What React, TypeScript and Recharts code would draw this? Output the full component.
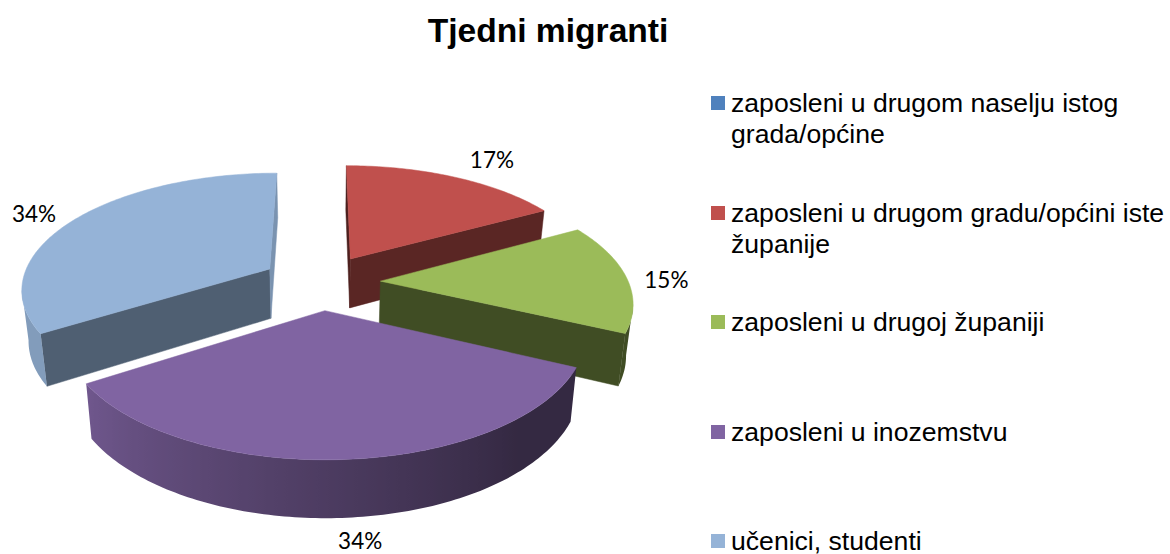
import React from "react";
import { PieChart, Pie, Legend } from "recharts";

const categories = [
  "zaposleni u drugom naselju istog grada/općine",
  "zaposleni u drugom gradu/općini iste županije",
  "zaposleni u drugoj županiji",
  "zaposleni u inozemstvu",
  "učenici, studenti",
];
const shares = [0, 17, 15, 34, 34];
const colors = ["#4f81bd", "#c0504d", "#9bbb59", "#8064a2", "#95b3d7"];

const rows = categories.map((name, i) => ({ name, value: shares[i], fill: colors[i] }));

// 3D look of the exploded pie
const TILT = 0.4637;
const PERSPECTIVE = 0.16;
const EXPLODE = 0.24;
const DEPTH = 50;
const labelReach = [1.5, 1.5, 1.35, 1.66, 1.47];
const labelNudge = [[0, 0], [14, 1], [13, 2], [4, -1], [0, 5]];
const sideShade = [0.47, 0.47, 0.41, 0.47, 0.53];
const rad = (d: number) => (d * Math.PI) / 180;

function shade(hex: string, f: number) {
  const n = parseInt(hex.slice(1), 16);
  const c = [(n >> 16) & 255, (n >> 8) & 255, n & 255].map((v) => Math.round(v * f));
  return `rgb(${c[0]},${c[1]},${c[2]})`;
}

function project(cx: number, cy: number, R: number, x: number, y: number, z = 0) {
  const w = 1 + PERSPECTIVE * y;
  const pull = 1 - 0.00045 * z;
  return [cx + ((R * x) / w) * pull, cy - (R * TILT * y) / w + z / Math.pow(w, 0.7)];
}
const pts = (list: number[][]) => list.map((p) => `${p[0].toFixed(2)},${p[1].toFixed(2)}`).join(" ");
const arcShade = (t: number) => Math.min(0.87, 0.41 + Math.max(0, t - 140) * (0.46 / 97));

function Slice3D(props: any) {
  const { cx, cy, outerRadius: R, startAngle, endAngle, fill, index } = props;
  const t0 = 90 - startAngle;
  const t1 = 90 - endAngle;
  if (!(t1 - t0 > 0.01)) return null;
  const mid = rad((t0 + t1) / 2);
  const ox = EXPLODE * Math.sin(mid);
  const oy = EXPLODE * Math.cos(mid);
  const rim = (t: number, z = 0) =>
    project(cx, cy, R, ox + Math.sin(rad(t)), oy + Math.cos(rad(t)), z);
  const apex = (z = 0) => project(cx, cy, R, ox, oy, z);

  const steps = Math.max(8, Math.ceil(t1 - t0));
  const ts = Array.from({ length: steps + 1 }, (_, i) => t0 + ((t1 - t0) * i) / steps);
  const top = [apex(), ...ts.map((t) => rim(t))];

  const side = shade(fill, sideShade[index]);
  const parts: React.ReactNode[] = [];
  const startP = rim(t0);
  const endP = rim(t1);
  const A = apex();
  if (startP[0] < A[0]) {
    const col = t0 < 45 ? shade(fill, 0.4) : side;
    parts.push(<polygon key="s" points={pts([A, startP, rim(t0, DEPTH), apex(DEPTH)])} fill={col} stroke={col} strokeWidth={0.5} />);
  }
  if (endP[0] > A[0]) {
    const col = t1 > 315 ? shade(fill, 0.82) : side;
    parts.push(<polygon key="e" points={pts([A, endP, rim(t1, DEPTH), apex(DEPTH)])} fill={col} stroke={col} strokeWidth={0.5} />);
  }

  // the outer wall: the part of the rim that faces the viewer, shaded along its length
  const front: number[] = [];
  for (let i = 0; i < steps; i++) {
    if (rim(ts[i + 1])[0] < rim(ts[i])[0]) {
      if (!front.length) front.push(ts[i]);
      front.push(ts[i + 1]);
    }
  }
  if (front.length > 1) {
    const xs = front.map((t) => rim(t)[0]);
    const xHi = Math.max(...xs);
    const xLo = Math.min(...xs);
    const id = `arc-wall-${index}`;
    const outline = [...front.map((t) => rim(t)), ...[...front].reverse().map((t) => rim(t, DEPTH))];
    parts.push(
      <linearGradient key="g" id={id} gradientUnits="userSpaceOnUse" x1={xLo} x2={xHi} y1={0} y2={0}>
        {[...front].reverse().map((t) => (
          <stop key={t} offset={(rim(t)[0] - xLo) / (xHi - xLo || 1)} stopColor={shade(fill, arcShade(t))} />
        ))}
      </linearGradient>
    );
    parts.push(<polygon key="a" points={pts(outline)} fill={`url(#${id})`} />);
  }
  return (
    <g>
      {parts}
      <polygon points={pts(top)} fill={fill} stroke={fill} strokeWidth={0.5} />
    </g>
  );
}

function sliceLabel(props: any) {
  const { cx, cy, outerRadius: R, midAngle, percent, index } = props;
  if (!percent) return null;
  const t = rad(90 - midAngle);
  const reach = labelReach[index];
  const [x, y] = project(cx, cy, R, reach * Math.sin(t), reach * Math.cos(t));
  return (
    <text
      x={x + labelNudge[index][0]}
      y={y + labelNudge[index][1]}
      textAnchor="middle"
      dominantBaseline="central"
      fontFamily="Lato"
      fontSize={22.5}
      fill="#000"
    >
      {`${Math.round(percent * 100)}%`}
    </text>
  );
}

function LegendBox({ payload }: any) {
  return (
    <div style={{ fontFamily: "'Liberation Sans'", fontSize: 26.6, lineHeight: "31px", color: "#000" }}>
      {(payload || []).map((item: any) => (
        <div key={item.value} style={{ height: 109.6, position: "relative", paddingLeft: 20 }}>
          <span style={{ position: "absolute", left: 0, top: 8, width: 14, height: 14, background: item.color }} />
          {item.value}
        </div>
      ))}
    </div>
  );
}

export default function App() {
  return (
    <div style={{ position: "absolute", left: 0, top: 0, width: 1170, height: 554, background: "#fff", overflow: "hidden" }}>
      <div
        style={{
          position: "absolute", left: 0, top: 11, width: 1096, textAlign: "center",
          fontFamily: "'Liberation Sans'", fontWeight: 700, fontSize: 33.6, lineHeight: "40px", color: "#000",
        }}
      >
        Tjedni migranti
      </div>
      <PieChart width={1170} height={554} margin={{ top: 0, right: 0, bottom: 0, left: 0 }}>
        <Pie
          data={rows}
          dataKey="value"
          nameKey="name"
          cx={321}
          cy={282}
          outerRadius={248}
          startAngle={90}
          endAngle={-270}
          stroke="none"
          isAnimationActive={false}
          shape={Slice3D}
          label={sliceLabel}
          labelLine={false}
        />
        <Legend
          layout="vertical"
          align="right"
          verticalAlign="top"
          itemSorter={null}
          content={<LegendBox />}
          wrapperStyle={{ left: 711, top: 88, width: 459 }}
        />
      </PieChart>
    </div>
  );
}
